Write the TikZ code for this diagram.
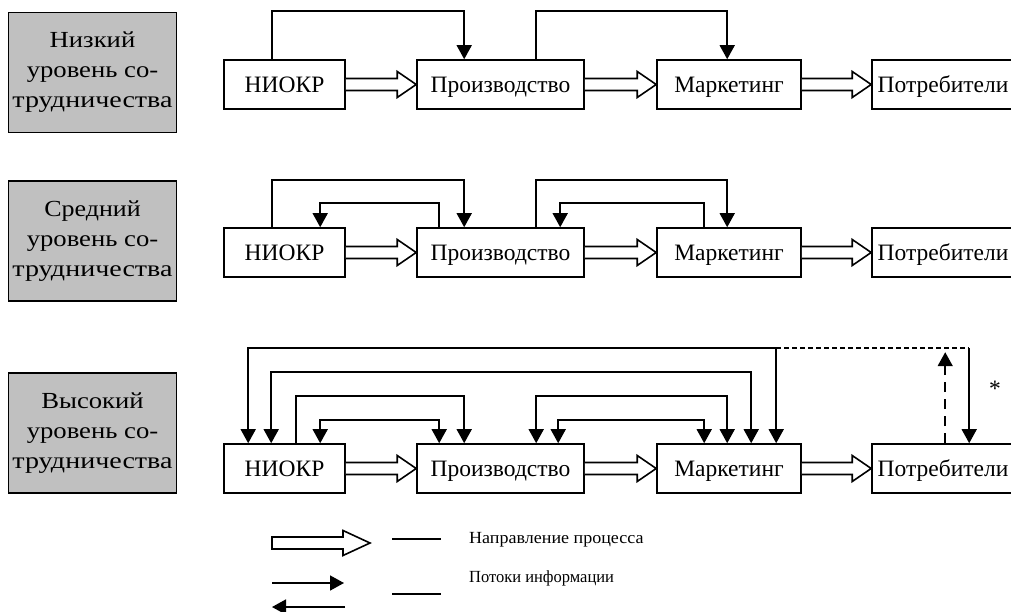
\documentclass[tikz,border=0pt]{standalone}
\usepackage{fontspec}
\usepackage{graphicx}
\setmainfont{Liberation Serif}
\usetikzlibrary{arrows.meta,calc}
\definecolor{lvlgray}{RGB}{192,192,192}
\newcommand\wl[2]{\scalebox{#1}[1]{#2}}
\tikzset{
  txt/.style={font=\fontsize{23.5}{30}\selectfont},
  blk/.style={txt, draw, line width=1.6pt, fill=white, minimum height=49pt, inner sep=0pt, text height=19pt, text depth=3pt},
  lvl/.style={font=\fontsize{23}{30}\selectfont, draw, line width=1.6pt, fill=lvlgray, minimum width=168pt, minimum height=120pt, inner sep=0pt, align=center},
  info/.style={line width=1.6pt, -{Triangle[width=15pt,length=14pt]}},
  infob/.style={line width=1.6pt, {Triangle[width=15pt,length=14pt]}-{Triangle[width=15pt,length=14pt]}},
  procarr/.style={line width=1.6pt, fill=white, line join=miter},
  legtxt/.style={font=\fontsize{17}{20}\selectfont, anchor=west, inner sep=0pt}
}
\newcommand\procarrow[2]{%
  \draw[procarr] ($(#1.east)+(0,-6)$) -- ($(#2.west)+(-19,-6)$) -- ($(#2.west)+(-19,-13)$) -- (#2.west)
    -- ($(#2.west)+(-19,13)$) -- ($(#2.west)+(-19,6)$) -- ($(#1.east)+(0,6)$);}
\begin{document}
\begin{tikzpicture}[x=1pt,y=-1pt]
\useasboundingbox (0,0) rectangle (1011,612);
% level boxes
\node[lvl] (g1) at (92.5,72.5) {\wl{1.16}{Низкий}\\\wl{1.16}{уровень со-}\\\wl{1.22}{трудничества}};
\node[lvl] (g2) at (92.5,241) {\wl{1.13}{Средний}\\\wl{1.16}{уровень со-}\\\wl{1.22}{трудничества}};
\node[lvl] (g3) at (92.5,433) {\wl{1.16}{Высокий}\\\wl{1.16}{уровень со-}\\\wl{1.22}{трудничества}};
% rows
\foreach \r/\y in {1/84.5,2/252.5,3/468.5}{
  \node[blk, minimum width=121pt] (n\r) at (284.5,\y) {НИОКР};
  \node[blk, minimum width=167pt] (p\r) at (500.5,\y) {Производство};
  \node[blk, minimum width=144pt] (m\r) at (729,\y) {Маркетинг};
  \node[blk, minimum width=142pt] (c\r) at (943,\y) {Потребители};
  \procarrow{n\r}{p\r}
  \procarrow{p\r}{m\r}
  \procarrow{m\r}{c\r}
}
% row 1
\draw[info] ($(n1.north west)+(49,0)$) -- ++(0,-48) -| ($(p1.north west)+(48,0)$);
\draw[info] ($(p1.north west)+(120,0)$) -- ++(0,-48) -| ($(m1.north west)+(71,0)$);
% row 2
\draw[info] ($(n2.north west)+(49,0)$) -- ++(0,-47) -| ($(p2.north west)+(48,0)$);
\draw[info] ($(p2.north west)+(23,0)$) -- ++(0,-24) -| ($(n2.north west)+(97,0)$);
\draw[info] ($(p2.north west)+(120,0)$) -- ++(0,-47) -| ($(m2.north west)+(71,0)$);
\draw[info] ($(m2.north west)+(48,0)$) -- ++(0,-24) -| ($(p2.north west)+(144,0)$);
% row 3
\draw[infob] ($(n3.north west)+(25,0)$) -- ++(0,-95) -| ($(m3.north west)+(120,0)$);
\draw[infob] ($(n3.north west)+(48,0)$) -- ++(0,-71) -| ($(m3.north west)+(95,0)$);
\draw[info] ($(n3.north west)+(73,0)$) -- ++(0,-47) -| ($(p3.north west)+(48,0)$);
\draw[infob] ($(p3.north west)+(120,0)$) -- ++(0,-47) -| ($(m3.north west)+(71,0)$);
\draw[infob] ($(n3.north west)+(97,0)$) -- ++(0,-23) -| ($(p3.north west)+(23,0)$);
\draw[infob] ($(p3.north west)+(142,0)$) -- ++(0,-23) -| ($(m3.north west)+(48,0)$);
\coordinate (k1) at ($(m3.north west)+(120,-95)$);
\coordinate (k2) at ($(c3.north west)+(98,-95)$);
\draw[line width=1.5pt, dash pattern=on 4.5pt off 3.5pt] (k1) -- (k2);
\draw[info] (k2) -- ($(c3.north west)+(98,0)$);
\draw[info, dash pattern=on 10pt off 7pt] ($(c3.north west)+(74,0)$) -- ++(0,-91);
\node[txt] (star) at (995,389) {*};
% legend
\coordinate (la) at (272,543);
\draw[procarr] ($(la)+(0,-6)$) -- ($(la)+(71,-6)$) -- ($(la)+(71,-12.5)$) -- ($(la)+(98,0)$)
  -- ($(la)+(71,12.5)$) -- ($(la)+(71,6)$) -- ($(la)+(0,6)$) -- cycle;
\coordinate (lb1) at (272,583);
\coordinate (lb2) at (344,583);
\draw[info] (lb1) -- (lb2);
\coordinate (lc1) at (345,607);
\coordinate (lc2) at (272,607);
\draw[info] (lc1) -- (lc2);
\coordinate (d1) at (392,539); \coordinate (d2) at (441,539);
\coordinate (d3) at (392,594); \coordinate (d4) at (441,594);
\draw[line width=1.2pt] (d1) -- (d2);
\draw[line width=1.2pt] (d3) -- (d4);
\node[legtxt] (t1) at (469,540) {\wl{1.06}{Направление процесса}};
\node[legtxt] (t2) at (469,578) {\wl{0.97}{Потоки информации}};
\end{tikzpicture}
\end{document}
